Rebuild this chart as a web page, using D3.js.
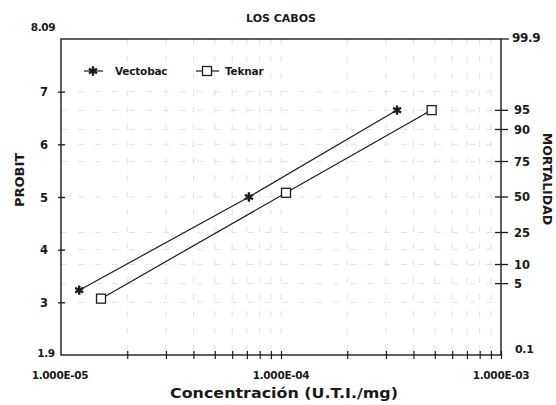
<!DOCTYPE html>
<html>
<head>
<meta charset="utf-8">
<script src="https://cdn.jsdelivr.net/npm/d3@7"></script>
<style>
  html, body { margin: 0; padding: 0; background: #fff; }
  svg text { font-family: "DejaVu Sans", "Liberation Sans", Arial, sans-serif; font-weight: bold; fill: #1a1a1a; }
</style>
</head>
<body>
<svg id="chart" width="556" height="405"></svg>
<script>
// Probit regression lines, Los Cabos
const seriesNames = ["Vectobac", "Teknar"];
const vectobacConc = [1.21e-5, 7.15e-5, 3.37e-4];
const vectobacProbit = [3.23, 5.0, 6.65];
const teknarConc = [1.52e-5, 1.054e-4, 4.84e-4];
const teknarProbit = [3.07, 5.08, 6.65];

const probitTicks = [3, 4, 5, 6, 7];
const probitEndLabels = ["1.9", "8.09"];
const mortalityLabels = ["95", "90", "75", "50", "25", "10", "5"];
const mortalityProbits = [6.645, 6.282, 5.674, 5.0, 4.326, 3.718, 3.355];
const mortalityEndLabels = ["0.1", "99.9"];
const xLabelValues = [1e-5, 1e-4, 1e-3];
const xLabelTexts = ["1.000E-05", "1.000E-04", "1.000E-03"];
const hGridProbits = [7, 6.645, 6.282, 6, 5.674, 5, 4.326, 4, 3.718, 3.355, 3];

const svg = d3.select("#chart");
const m = { left: 61, right: 501, top: 39, bottom: 355 };
const ink = "#1c1c1c";

const x = d3.scaleLog().domain([1e-5, 1e-3]).range([m.left, m.right]);
const y = d3.scaleLinear().domain([2, 8]).range([m.bottom, m.top]);

// faint dashed grid
const minorX = [];
[1e-5, 1e-4].forEach(d => { for (let k = 2; k <= 9; k++) minorX.push(d * k); });
minorX.push(1e-4);
const grid = svg.append("g").attr("stroke", "#e2e2e2").attr("stroke-width", 1)
  .attr("stroke-dasharray", "6 11");
grid.selectAll("line.h").data(hGridProbits).join("line").attr("class", "h")
  .attr("x1", m.left).attr("x2", m.right)
  .attr("y1", d => y(d)).attr("y2", d => y(d));
grid.selectAll("line.v").data(minorX).join("line").attr("class", "v")
  .attr("x1", d => x(d)).attr("x2", d => x(d))
  .attr("y1", m.top).attr("y2", m.bottom);

// frame
svg.append("rect").attr("x", m.left).attr("y", m.top)
  .attr("width", m.right - m.left).attr("height", m.bottom - m.top)
  .attr("fill", "none").attr("stroke", ink).attr("stroke-width", 1.4);

// bottom axis: ticks crossing the axis line
const xAxis = svg.append("g").attr("transform", `translate(0,${m.bottom})`)
  .call(d3.axisBottom(x).tickValues(minorX.concat([1e-3])).tickSize(4).tickFormat(""));
xAxis.select(".domain").remove();
xAxis.selectAll(".tick line").attr("y1", -4).attr("y2", 4).attr("stroke", ink).attr("stroke-width", 1.2);
svg.selectAll("text.xl").data(xLabelValues).join("text").attr("class", "xl")
  .attr("x", (d, i) => x(d) + (i === 0 ? -1 : 0)).attr("y", 379)
  .attr("text-anchor", "middle").attr("font-size", 10.5).attr("letter-spacing", -0.3)
  .text((d, i) => xLabelTexts[i]);

// left axis
const yAxis = svg.append("g").attr("transform", `translate(${m.left},0)`)
  .call(d3.axisLeft(y).tickValues(probitTicks).tickSize(3).tickFormat(d3.format("d")));
yAxis.select(".domain").remove();
yAxis.selectAll(".tick line").attr("x1", -3).attr("x2", 4).attr("stroke", ink).attr("stroke-width", 1.3);
yAxis.selectAll(".tick text").attr("x", -17).attr("text-anchor", "middle")
  .attr("font-size", 11.5).attr("dy", "0.35em")
  .style("font-family", "DejaVu Sans, Liberation Sans, Arial, sans-serif").style("font-weight", "bold").attr("fill", "#1a1a1a");
svg.append("text").attr("x", 46).attr("y", y(2) + 2).attr("text-anchor", "middle")
  .attr("font-size", 10.5).attr("letter-spacing", -0.3).text(probitEndLabels[0]);
svg.append("text").attr("x", 43).attr("y", y(8) - 8).attr("text-anchor", "middle")
  .attr("font-size", 10.5).attr("letter-spacing", -0.3).text(probitEndLabels[1]);

// right axis (mortality %)
const rAxis = svg.append("g");
rAxis.selectAll("line").data(mortalityProbits).join("line")
  .attr("x1", m.right - 6).attr("x2", m.right + 7)
  .attr("y1", d => y(d)).attr("y2", d => y(d))
  .attr("stroke", ink).attr("stroke-width", 1.3);
rAxis.selectAll("text").data(mortalityProbits).join("text")
  .attr("x", m.right + 13).attr("y", d => y(d)).attr("dy", "0.35em")
  .attr("font-size", 11.5).text((d, i) => mortalityLabels[i]);
svg.append("line").attr("x1", m.right).attr("x2", m.right + 8)
  .attr("y1", y(8)).attr("y2", y(8)).attr("stroke", ink).attr("stroke-width", 1.3);
svg.append("text").attr("x", m.right + 11).attr("y", y(8) - 1).attr("dy", "0.35em")
  .attr("font-size", 12).attr("letter-spacing", -0.3).text(mortalityEndLabels[1]);
svg.append("text").attr("x", m.right + 14).attr("y", y(2) - 6).attr("dy", "0.35em")
  .attr("font-size", 11).attr("letter-spacing", -0.3).text(mortalityEndLabels[0]);

// titles
svg.append("text").attr("x", 281).attr("y", 22).attr("text-anchor", "middle")
  .attr("font-size", 11).text("LOS CABOS");
svg.append("text").attr("transform", "translate(24,180) rotate(-90)")
  .attr("text-anchor", "middle").attr("font-size", 13).text("PROBIT");
svg.append("text").attr("transform", "translate(543,179) rotate(90)")
  .attr("text-anchor", "middle").attr("font-size", 12.5).text("MORTALIDAD");
svg.append("text").attr("x", 284).attr("y", 398).attr("text-anchor", "middle")
  .attr("font-size", 13.5).attr("textLength", 228).attr("lengthAdjust", "spacingAndGlyphs")
  .text("Concentración (U.T.I./mg)");

// series lines
const line = d3.line().x(d => x(d[0])).y(d => y(d[1]));
const vData = vectobacConc.map((c, i) => [c, vectobacProbit[i]]);
const tData = teknarConc.map((c, i) => [c, teknarProbit[i]]);
svg.append("path").datum(vData).attr("d", line).attr("fill", "none")
  .attr("stroke", ink).attr("stroke-width", 1.2);
svg.append("path").datum(tData).attr("d", line).attr("fill", "none")
  .attr("stroke", ink).attr("stroke-width", 1.2);

// markers
const star = d3.symbol().type(d3.symbolAsterisk).size(60);
function drawStar(g, px, py) {
  g.append("path").attr("d", star()).attr("transform", `translate(${px},${py})`)
    .attr("fill", "none").attr("stroke", ink).attr("stroke-width", 2.4);
}
function drawSquare(g, px, py) {
  g.append("rect").attr("x", px - 4.5).attr("y", py - 4.5).attr("width", 9).attr("height", 9)
    .attr("fill", "#fff").attr("stroke", ink).attr("stroke-width", 1.3);
}
const marks = svg.append("g");
vData.forEach(d => drawStar(marks, x(d[0]), y(d[1])));
tData.forEach(d => drawSquare(marks, x(d[0]), y(d[1])));

// legend
const lg = svg.append("g");
lg.append("line").attr("x1", 84).attr("x2", 103).attr("y1", 71).attr("y2", 71).attr("stroke", ink).attr("stroke-width", 1.2);
drawStar(lg, 93, 71);
lg.append("text").attr("x", 115).attr("y", 75).attr("font-size", 10.5).attr("letter-spacing", -0.2).text(seriesNames[0]);
lg.append("line").attr("x1", 196).attr("x2", 219).attr("y1", 71).attr("y2", 71).attr("stroke", ink).attr("stroke-width", 1.2);
drawSquare(lg, 207, 71);
lg.append("text").attr("x", 225).attr("y", 75).attr("font-size", 10.5).attr("letter-spacing", -0.2).text(seriesNames[1]);
</script>
</body>
</html>
